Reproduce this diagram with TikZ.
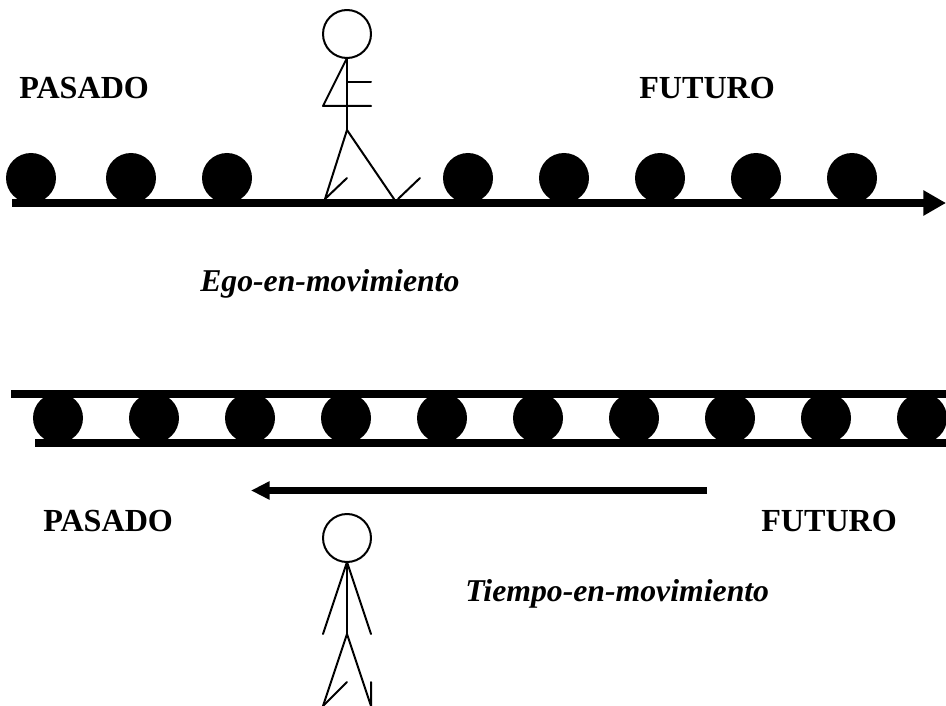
\documentclass[tikz,border=0pt]{standalone}
\usepackage{fontspec}
\setmainfont{Liberation Serif}
\usetikzlibrary{arrows.meta}
\tikzset{
  label/.style={font=\fontsize{24.1}{28}\selectfont\bfseries,inner sep=0pt},
  mode/.style={font=\fontsize{23.8}{28}\selectfont\bfseries\itshape,inner sep=0pt},
  stick/.style={line width=1.5pt,line cap=round,line join=round},
  rail/.style={line width=6pt}
}
\begin{document}
\begin{tikzpicture}[x=0.75pt,y=-0.75pt]
  \useasboundingbox (0,0) rectangle (946,706);
  % upper walker
  \draw[rail,-{Triangle[length=17pt,width=18pt]}] (12,203) -- (946,203);
  \foreach \x in {31,131,227,468,564,660,756,852}
    \fill (\x,178) circle[radius=18.75pt];
  \draw[stick] (347,34) circle[radius=18pt];
  \draw[stick] (347,58) -- (347,130);
  \draw[stick] (347,58) -- (323,106) -- (371,106);
  \draw[stick] (347,82) -- (371,82);
  \draw[stick] (347,130) -- (325,199) -- (347,178);
  \draw[stick] (347,130) -- (394,199);
  \draw[stick] (398,199) -- (420,178);
  \node[label,anchor=base west] (pasadoa) at (19,99) {PASADO};
  \node[label,anchor=base west] (futuroa) at (639,99) {FUTURO};
  \node[mode,anchor=base west] (ego) at (200,291) {Ego-en-movimiento};
  % lower walker
  \foreach \x in {58,154,250,346,442,538,634,730,826,922}
    \fill (\x,418) circle[radius=18.75pt];
  \draw[rail] (11,394) -- (946,394);
  \draw[rail] (35,442.5) -- (946,442.5);
  \draw[line width=5pt,-{Triangle[length=14pt,width=13pt]}] (707,490.5) -- (251,490.5);
  \draw[stick] (347,538) circle[radius=18pt];
  \draw[stick] (347,562) -- (347,634);
  \draw[stick] (323,634) -- (347,562) -- (371,634);
  \draw[stick] (323,706) -- (347,634) -- (371,706) -- (371,682);
  \draw[stick] (323,706) -- (347,682);
  \node[label,anchor=base west] (pasadob) at (43,531) {PASADO};
  \node[label,anchor=base west] (futurob) at (761,531) {FUTURO};
  \node[mode,anchor=base west] (tiempo) at (465,601) {Tiempo-en-movimiento};
\end{tikzpicture}
\end{document}
